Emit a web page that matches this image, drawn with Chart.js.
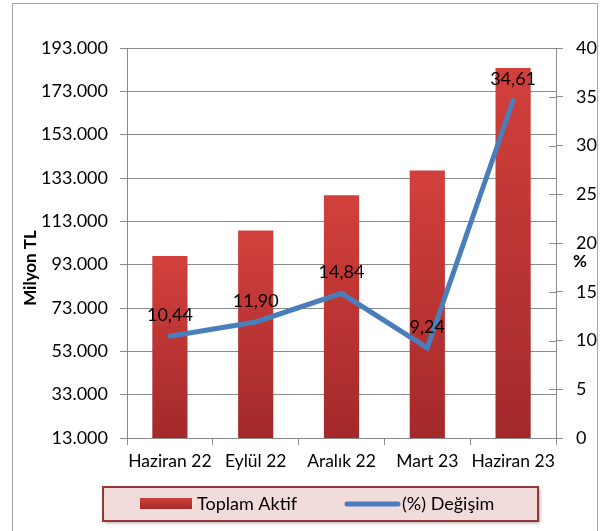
<!DOCTYPE html>
<html>
<head>
<meta charset="utf-8">
<script src="https://cdn.jsdelivr.net/npm/chart.js@4"></script>
<style>
  html, body { margin: 0; padding: 0; background: #fff; }
  #wrap { width: 601px; height: 531px; }
</style>
</head>
<body>
<div id="wrap"><canvas id="chart" width="601" height="531"></canvas></div>
<script>
const categories = ['Haziran 22', 'Eylül 22', 'Aralık 22', 'Mart 23', 'Haziran 23'];
const toplamAktif = [97000, 108800, 125000, 136500, 183800];
const degisim = [10.44, 11.90, 14.84, 9.24, 34.61];
const leftTicks = { min: 13000, max: 193000, step: 20000 };
const rightTicks = { min: 0, max: 40, step: 5 };

const FONT = 'Lato, "Open Sans", sans-serif';
const GRID = '#8a8a8a';

function fmtThousands(v) {
  return String(Math.round(v)).replace(/\B(?=(\d{3})+(?!\d))/g, '.');
}

// frame, titles, labels, legend
const extras = {
  id: 'extras',
  beforeDraw(chart) {
    const ctx = chart.ctx;
    ctx.save();
    ctx.fillStyle = '#fff';
    ctx.fillRect(0, 0, chart.width, chart.height);
    ctx.strokeStyle = '#a6a6a6';
    ctx.lineWidth = 1;
    ctx.strokeRect(12.5, 3.5, 585, 560);
    ctx.restore();
  },
  afterDraw(chart) {
    const ctx = chart.ctx;
    const area = chart.chartArea;
    const y1 = chart.scales.y1;
    ctx.save();

    // right axis ticks crossing inward
    ctx.strokeStyle = GRID;
    ctx.lineWidth = 1;
    y1.ticks.forEach(t => {
      const py = Math.round(y1.getPixelForValue(t.value)) + 0.5;
      ctx.beginPath();
      ctx.moveTo(area.right - 7, py);
      ctx.lineTo(area.right, py);
      ctx.stroke();
    });

    // axis titles
    ctx.fillStyle = '#000';
    ctx.font = 'bold 17px ' + FONT;
    ctx.textAlign = 'center';
    ctx.textBaseline = 'middle';
    ctx.save();
    ctx.translate(31, 268);
    ctx.rotate(-Math.PI / 2);
    ctx.fillText('Milyon TL', 0, 0);
    ctx.restore();
    ctx.fillText('%', 580, 262);

    // data labels on line
    ctx.font = '18px ' + FONT;
    const meta = chart.getDatasetMeta(1);
    meta.data.forEach((pt, i) => {
      ctx.fillText(degisim[i].toFixed(2).replace('.', ','), pt.x, pt.y - 21);
    });

    // legend box
    ctx.save();
    ctx.shadowColor = 'rgba(0,0,0,0.35)';
    ctx.shadowBlur = 3;
    ctx.shadowOffsetX = 2;
    ctx.shadowOffsetY = 2;
    ctx.fillStyle = '#f2dcdb';
    ctx.fillRect(103, 487, 435, 34);
    ctx.restore();
    ctx.strokeStyle = '#953735';
    ctx.lineWidth = 2;
    ctx.strokeRect(103, 487, 435, 34);

    const g = ctx.createLinearGradient(0, 498, 0, 509);
    g.addColorStop(0, '#d2403c');
    g.addColorStop(1, '#a3292a');
    ctx.fillStyle = g;
    ctx.fillRect(140, 498, 52, 11);
    ctx.strokeStyle = '#4a7ebb';
    ctx.lineWidth = 5;
    ctx.lineCap = 'round';
    ctx.beginPath();
    ctx.moveTo(347, 504);
    ctx.lineTo(398, 504);
    ctx.stroke();

    ctx.fillStyle = '#000';
    ctx.font = '18px ' + FONT;
    ctx.textAlign = 'left';
    ctx.fillText('Toplam Aktif', 197, 504);
    ctx.fillText('(%) Değişim', 402, 504);
    ctx.restore();
  }
};

function barGradient(context) {
  const chart = context.chart;
  if (!chart.chartArea || context.parsed === undefined) return '#b83232';
  const ys = chart.scales.y;
  const top = ys.getPixelForValue(context.parsed.y);
  const bottom = chart.chartArea.bottom;
  const g = chart.ctx.createLinearGradient(0, top, 0, bottom);
  g.addColorStop(0, '#d2403c');
  g.addColorStop(1, '#a3292a');
  return g;
}

new Chart(document.getElementById('chart'), {
  type: 'bar',
  data: {
    labels: categories,
    datasets: [
      {
        type: 'bar',
        label: 'Toplam Aktif',
        data: toplamAktif,
        yAxisID: 'y',
        backgroundColor: barGradient,
        barPercentage: 0.41,
        categoryPercentage: 1,
        order: 1
      },
      {
        type: 'line',
        label: '(%) Değişim',
        data: degisim,
        yAxisID: 'y1',
        borderColor: '#4a7ebb',
        borderWidth: 5,
        borderCapStyle: 'round',
        borderJoinStyle: 'miter',
        pointRadius: 0,
        tension: 0,
        order: 0
      }
    ]
  },
  options: {
    responsive: false,
    animation: false,
    layout: { padding: { top: 48, left: 0, right: 0, bottom: 0 } },
    plugins: { legend: { display: false }, tooltip: { enabled: false } },
    scales: {
      x: {
        grid: { drawOnChartArea: false, color: GRID, tickLength: 7, offset: true },
        border: { color: GRID },
        ticks: {
          color: '#000',
          font: { family: FONT, size: 17.5 },
          padding: 6,
          maxRotation: 0,
          autoSkip: false
        },
        afterFit: s => { s.height = 93; }
      },
      y: {
        position: 'left',
        min: leftTicks.min,
        max: leftTicks.max,
        grid: { color: GRID, tickLength: 7 },
        border: { color: GRID },
        ticks: {
          stepSize: leftTicks.step,
          color: '#000',
          font: { family: FONT, size: 18 },
          padding: 12,
          callback: v => fmtThousands(v)
        },
        afterFit: s => { s.width = 127; }
      },
      y1: {
        position: 'right',
        min: rightTicks.min,
        max: rightTicks.max,
        grid: { drawOnChartArea: false, color: GRID, tickLength: 7 },
        border: { color: GRID },
        ticks: {
          stepSize: rightTicks.step,
          color: '#000',
          font: { family: FONT, size: 18 },
          padding: 13
        },
        afterFit: s => { s.width = 45; }
      }
    }
  },
  plugins: [extras]
});
</script>
</body>
</html>
